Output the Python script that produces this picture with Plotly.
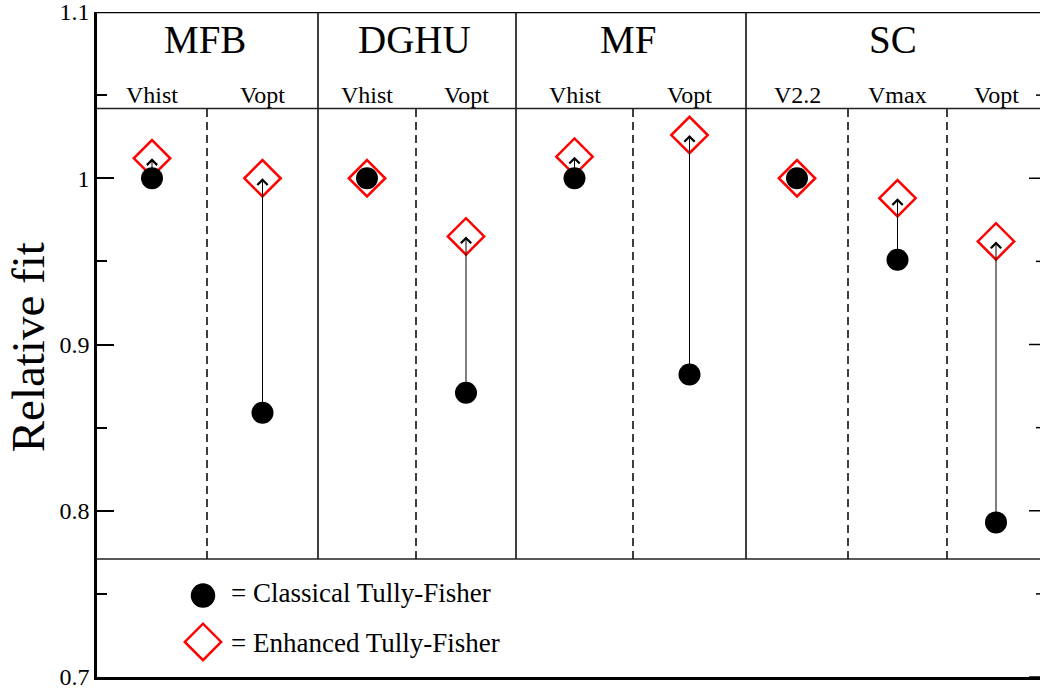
import plotly.graph_objects as go

# ---------------- data ----------------
groups = ["MFB", "DGHU", "MF", "SC"]
group_sizes = [2, 2, 2, 3]
categories = ["Vhist", "Vopt", "Vhist", "Vopt", "Vhist", "Vopt", "V2.2", "Vmax", "Vopt"]
classical = [1.000, 0.859, 1.000, 0.871, 1.000, 0.882, 1.000, 0.951, 0.793]
enhanced = [1.012, 1.000, 1.000, 0.965, 1.013, 1.026, 1.000, 0.988, 0.962]

y_tickvals = [0.7, 0.8, 0.9, 1.0, 1.1]
y_ticktext = ["0.7", "0.8", "0.9", "1", "1.1"]
y_minor = [0.75, 0.85, 0.95, 1.05]

# ---------------- layout constants ----------------
col_edges = [0, 110, 221, 319, 419, 536, 649, 751, 850, 948]  # column boundaries (x axis units)
x_range = [0, 943]
y_range = [0.7, 1.1]
header_y = 1.042
footer_y = 0.771
title_y = 1.0835
sub_y = 1.05
FONT = "Liberation Serif"

centers = [(col_edges[i] + col_edges[i + 1]) / 2 for i in range(len(categories))]

fig = go.Figure()

fig.add_trace(go.Scatter(
    x=centers, y=enhanced, mode="markers", name="Enhanced Tully-Fisher",
    marker=dict(symbol="diamond-open", size=28, color="#ff0000", line=dict(width=2.5, color="#ff0000")),
    showlegend=False, cliponaxis=False))
fig.add_trace(go.Scatter(
    x=centers, y=classical, mode="markers", name="Classical Tully-Fisher",
    marker=dict(symbol="circle", size=22, color="black"),
    showlegend=False, cliponaxis=False))

# legend (drawn inside the plot)
leg_x = 106
leg_text_x = 132
leg_rows = [("Classical Tully-Fisher", 0.749, 0.7505, "circle", 22, "black"),
            ("Enhanced Tully-Fisher", 0.7211, 0.7203, "diamond-open", 28, "#ff0000")]
for name, ym, yt, sym, sz, col in leg_rows:
    fig.add_trace(go.Scatter(
        x=[leg_x], y=[ym], mode="markers", showlegend=False,
        marker=dict(symbol=sym, size=sz, color=col, line=dict(width=2.5, color=col))))

annotations = []
for name, ym, yt, sym, sz, col in leg_rows:
    annotations.append(dict(x=leg_text_x, y=yt, xref="x", yref="y", text="= " + name,
                            showarrow=False, xanchor="left", yanchor="middle",
                            font=dict(family=FONT, size=27, color="black")))

# arrows from classical to enhanced
for xc, c, e in zip(centers, classical, enhanced):
    if abs(e - c) > 1e-9:
        annotations.append(dict(x=xc, y=e, ax=xc, ay=c, xref="x", yref="y", axref="x", ayref="y",
                                showarrow=True, arrowhead=4, arrowsize=2, arrowwidth=1,
                                arrowcolor="black", standoff=0, startstandoff=0, text=""))

# sub labels
for xc, lab in zip(centers, categories):
    annotations.append(dict(x=xc, y=sub_y, xref="x", yref="y", text=lab, showarrow=False,
                            xanchor="center", yanchor="middle",
                            font=dict(family=FONT, size=24, color="black")))

# group titles
shapes = []
idx = 0
for g, n in zip(groups, group_sizes):
    x0, x1 = col_edges[idx], col_edges[idx + n]
    annotations.append(dict(x=(x0 + x1) / 2 - 3, y=title_y, xref="x", yref="y", text=g, showarrow=False,
                            xanchor="center", yanchor="middle",
                            font=dict(family=FONT, size=39, color="black")))
    for k in range(idx + 1, idx + n):
        shapes.append(dict(type="line", xref="x", yref="y", x0=col_edges[k], x1=col_edges[k],
                           y0=footer_y, y1=header_y, line=dict(color="black", width=1.5, dash="8px,5px")))
    if idx + n < len(categories):
        shapes.append(dict(type="line", xref="x", yref="y", x0=x1, x1=x1,
                           y0=footer_y, y1=y_range[1], line=dict(color="black", width=1.5)))
    idx += n

for yy in (header_y, footer_y):
    shapes.append(dict(type="line", xref="paper", yref="y", x0=0, x1=1, y0=yy, y1=yy,
                       line=dict(color="#222222", width=1.5)))
shapes.append(dict(type="line", xref="paper", yref="y", x0=0, x1=1, y0=y_range[1], y1=y_range[1],
                   line=dict(color="black", width=2.5)))
for t in y_tickvals:
    shapes.append(dict(type="line", xref="paper", yref="y", x0=1 - 11 / 943, x1=1, y0=t, y1=t,
                       line=dict(color="black", width=1.5)))
for t in y_minor:
    shapes.append(dict(type="line", xref="paper", yref="y", x0=1 - 4 / 943, x1=1, y0=t, y1=t,
                       line=dict(color="black", width=1.5)))

annotations.append(dict(x=-0.073, y=0.496, xref="paper", yref="paper", text="Relative fit",
                        textangle=-90, showarrow=False, xanchor="center", yanchor="middle",
                        font=dict(family=FONT, size=47, color="black")))

fig.update_layout(
    width=1040, height=696,
    margin=dict(l=97, r=0, t=12, b=19),
    paper_bgcolor="white", plot_bgcolor="white",
    showlegend=False,
    xaxis=dict(range=x_range, showticklabels=False, ticks="", showgrid=False, zeroline=False,
               showline=True, linecolor="black", linewidth=2.5),
    yaxis=dict(range=y_range, tickvals=y_tickvals, ticktext=y_ticktext, ticks="inside",
               ticklen=17, tickwidth=1.5, tickcolor="black", showgrid=False, zeroline=False,
               showline=True, linecolor="black", linewidth=2.5, automargin=False,
               ticklabeloverflow="allow",
               tickfont=dict(family=FONT, size=24, color="black"),
               minor=dict(tickvals=y_minor, ticks="inside", ticklen=10, tickwidth=1.5,
                          tickcolor="black", showgrid=False)),
    annotations=annotations,
    shapes=shapes,
)

fig.write_html("out.html", config={"displayModeBar": False},
               post_script="document.body.style.margin='0px';")
